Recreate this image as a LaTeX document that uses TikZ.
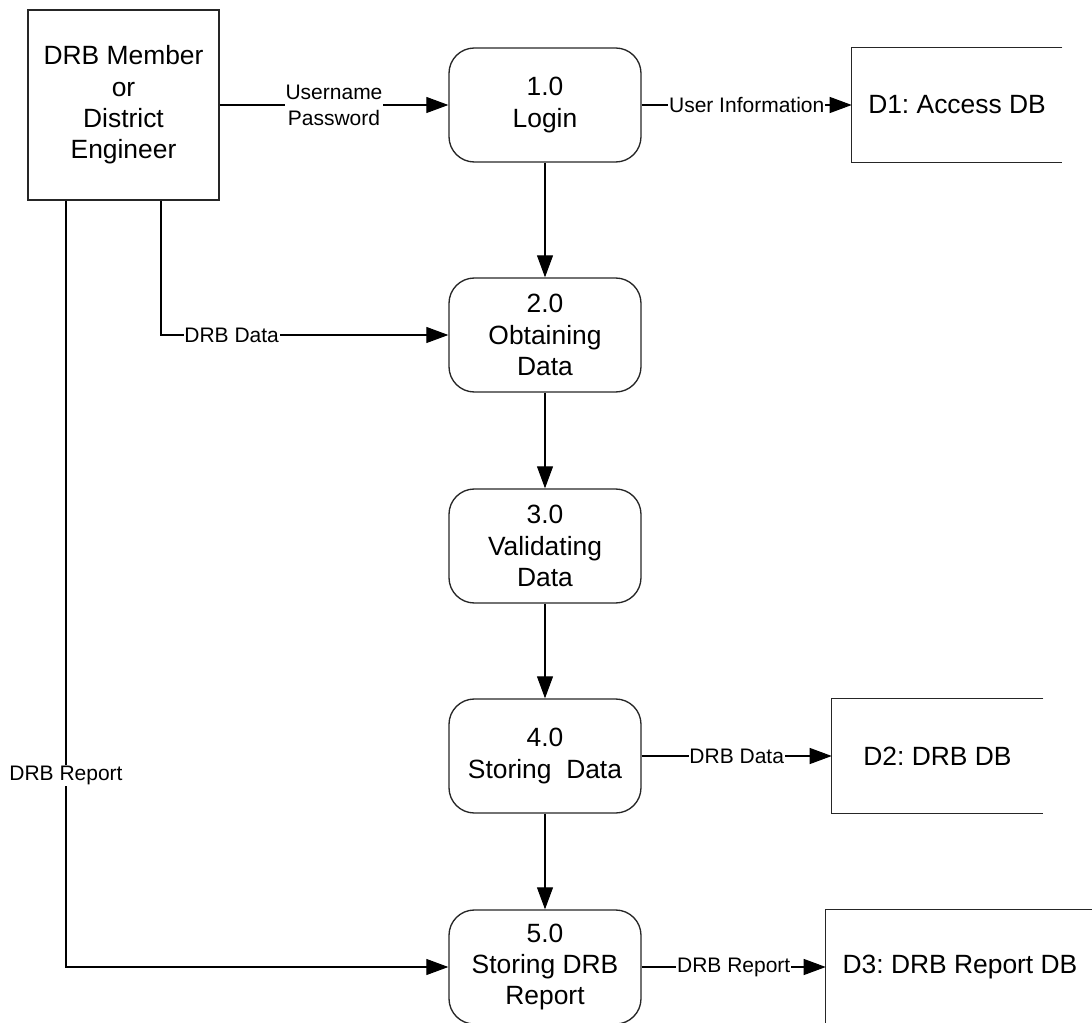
\documentclass[tikz,border=0pt]{standalone}
\usepackage{fontspec}
\setmainfont{Liberation Sans}
\usetikzlibrary{arrows.meta}
\frenchspacing
\begin{document}
\begin{tikzpicture}[x=0.75pt,y=-0.75pt,
  box/.style={draw=black!85, line width=1pt, font=\fontsize{19.8}{23.5}\selectfont, align=center, inner sep=0pt},
  entity/.style={box, minimum width=143.25pt, minimum height=142.5pt},
  proc/.style={box, rounded corners=19pt, minimum width=144pt, minimum height=85.5pt},
  store/.style={font=\fontsize{19.8}{23.5}\selectfont, inner sep=0pt, minimum height=85.5pt},
  storeline/.style={draw=black!85, line width=1pt},
  flow/.style={draw=black, line width=0.8pt, -{Triangle[length=16.5pt,width=12pt]}},
  lbl/.style={fill=white, font=\fontsize{15.75}{19.5}\selectfont, inner sep=0.6pt, align=center}]
\useasboundingbox (0,0) rectangle (1092,1023);

% external entity
\node[entity] (ent) at (123.5,105) {DRB Member\\or\\District\\Engineer};

% processes
\node[proc] (p1) at (545,105) {1.0\\Login};
\node[proc] (p2) at (545,335) {2.0\\Obtaining\\Data};
\node[proc] (p3) at (545,546) {3.0\\Validating\\Data};
\node[proc] (p4) at (545,756) {4.0\\Storing~~Data};
\node[proc] (p5) at (545,967) {5.0\\Storing DRB\\Report};

% data stores (open on the right)
\node[store, minimum width=157.5pt] (d1) at (957,105) {D1: Access DB};
\node[store, minimum width=158.25pt] (d2) at (937.5,756) {D2: DRB DB};
\node[store, minimum width=201pt] (d3) at (960,967) {D3: DRB Report DB};
\foreach \s in {d1,d2,d3}
  \draw[storeline] (\s.north east) -- (\s.north west) -- (\s.south west) -- (\s.south east);

% data flows
\draw[flow] (ent.east) -- node[lbl] {Username\\Password} (p1.west);
\draw[flow] (p1.east) -- node[lbl] {User Information} (d1.west);
\draw[flow] (p1.south) -- (p2.north);
\draw[flow] ([xshift=28.125pt]ent.south) |- node[lbl, pos=0.623] {DRB Data} (p2.west);
\draw[flow] (p2.south) -- (p3.north);
\draw[flow] (p3.south) -- (p4.north);
\draw[flow] (p4.east) -- node[lbl] {DRB Data} (d2.west);
\draw[flow] (p4.south) -- (p5.north);
\draw[flow] ([xshift=-43.125pt]ent.south) |- node[lbl, pos=0.375] {DRB Report} (p5.west);
\draw[flow] (p5.east) -- node[lbl] {DRB Report} (d3.west);
\end{tikzpicture}
\end{document}
